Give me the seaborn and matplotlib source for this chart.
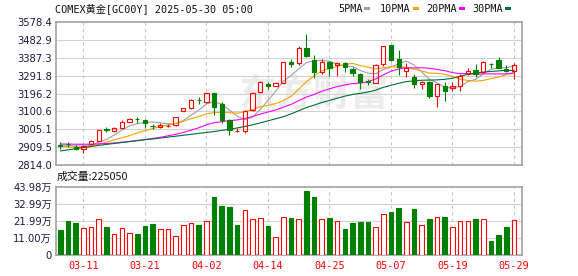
import numpy as np
import matplotlib
matplotlib.use("Agg")
import matplotlib.pyplot as plt
import seaborn as sns
from matplotlib.patches import Rectangle

# ---------------- data ----------------
open_ = [2922, 2928, 2908, 2898, 2925, 2942, 3004, 2996, 3013, 3044, 3061, 3054, 3024, 3019, 3024,
         3028, 3104, 3120, 3163, 3152, 3200, 3138, 3054, 2996, 2998, 3108, 3203, 3247, 3237, 3254,
         3366, 3358, 3438, 3376, 3310, 3366, 3349, 3358, 3327, 3300, 3261, 3254, 3352, 3455, 3380,
         3318, 3282, 3246, 3259, 3184, 3238, 3224, 3238, 3299, 3322, 3310, 3356, 3376, 3327, 3318]
close = [2918, 2924, 2898, 2915, 2942, 3000, 3002, 3010, 3044, 3058, 3059, 3037, 3021, 3026, 3025,
         3069, 3117, 3162, 3160, 3197, 3126, 3054, 3000, 2997, 3103, 3197, 3258, 3235, 3251, 3363,
         3352, 3438, 3399, 3310, 3366, 3331, 3361, 3340, 3308, 3256, 3258, 3349, 3450, 3376, 3340,
         3331, 3247, 3259, 3183, 3245, 3211, 3236, 3290, 3318, 3300, 3366, 3352, 3334, 3316, 3349]
high = [2935, 2938, 2919, 2920, 2950, 3003, 3015, 3015, 3052, 3064, 3069, 3060, 3035, 3036, 3032,
        3072, 3120, 3166, 3176, 3206, 3204, 3152, 3060, 3012, 3110, 3206, 3265, 3258, 3256, 3366,
        3380, 3450, 3515, 3402, 3380, 3372, 3366, 3366, 3340, 3305, 3275, 3352, 3452, 3458, 3429,
        3361, 3300, 3262, 3262, 3248, 3256, 3256, 3298, 3332, 3356, 3368, 3358, 3390, 3349, 3360]
low = [2897, 2912, 2895, 2878, 2920, 2940, 2990, 2992, 3010, 3042, 3040, 3010, 3008, 3013, 3018,
       3025, 3100, 3115, 3140, 3146, 3081, 3038, 2974, 2992, 2983, 3100, 3198, 3222, 3234, 3250,
       3340, 3350, 3390, 3278, 3302, 3290, 3292, 3313, 3292, 3219, 3240, 3250, 3345, 3372, 3295,
       3285, 3225, 3222, 3170, 3126, 3156, 3210, 3211, 3294, 3282, 3305, 3332, 3330, 3312, 3272]

ma5 = [2921, 2919, 2916, 2915, 2919, 2936, 2951, 2974, 3000, 3023, 3035, 3042, 3044, 3040, 3034,
       3036, 3052, 3080, 3107, 3141, 3152, 3140, 3107, 3075, 3056, 3070, 3111, 3158, 3209, 3261,
       3292, 3328, 3361, 3372, 3373, 3369, 3353, 3342, 3341, 3319, 3305, 3302, 3324, 3338, 3355,
       3369, 3349, 3311, 3272, 3253, 3229, 3227, 3233, 3260, 3271, 3302, 3325, 3334, 3334, 3343]
ma10 = [2915, 2912, 2909, 2908, 2913, 2925, 2937, 2948, 2960, 2971, 2985, 2997, 3009, 3020, 3028,
        3035, 3047, 3062, 3073, 3087, 3094, 3096, 3094, 3091, 3099, 3111, 3125, 3133, 3142, 3158,
        3181, 3219, 3259, 3291, 3317, 3330, 3341, 3351, 3357, 3346, 3337, 3328, 3333, 3340, 3337,
        3337, 3326, 3317, 3305, 3304, 3299, 3288, 3272, 3266, 3262, 3266, 3276, 3284, 3297, 3307]
ma20 = [2926, 2926, 2925, 2925, 2925, 2927, 2929, 2932, 2936, 2940, 2945, 2950, 2956, 2962, 2970,
        2978, 2988, 3000, 3013, 3029, 3040, 3046, 3051, 3055, 3063, 3073, 3086, 3097, 3108, 3123,
        3138, 3158, 3177, 3191, 3208, 3221, 3233, 3242, 3249, 3252, 3259, 3274, 3296, 3315, 3327,
        3334, 3333, 3334, 3331, 3325, 3318, 3308, 3302, 3303, 3300, 3301, 3301, 3301, 3301, 3306]
ma30 = [2889, 2895, 2901, 2907, 2913, 2919, 2924, 2929, 2934, 2939, 2944, 2949, 2953, 2958, 2963,
        2968, 2973, 2978, 2983, 2988, 2993, 2999, 3005, 3012, 3020, 3029, 3039, 3050, 3061, 3072,
        3087, 3104, 3121, 3134, 3148, 3159, 3171, 3182, 3191, 3197, 3204, 3214, 3229, 3240, 3251,
        3260, 3264, 3267, 3268, 3269, 3272, 3278, 3288, 3299, 3305, 3311, 3314, 3317, 3320, 3319]

# volume in 万 (10k)
volume = [16.1, 21.9, 20.8, 17.2, 18.4, 23.6, 18.0, 13.3, 17.2, 14.2, 13.5, 18.7, 19.9, 16.5, 16.5,
          12.0, 19.1, 20.4, 19.3, 21.7, 37.3, 31.5, 30.9, 19.3, 29.0, 23.0, 24.2, 18.7, 11.4, 24.9,
          23.8, 23.6, 41.2, 37.3, 23.6, 23.8, 21.7, 16.7, 20.6, 21.5, 21.2, 18.4, 26.4, 27.7, 30.2,
          21.2, 29.6, 19.7, 23.0, 24.9, 24.5, 18.4, 22.3, 22.3, 23.2, 23.6, 9.0, 12.9, 18.0, 22.505]
vol_up = [0, 0, 0, 1, 1, 1, 0, 1, 1, 1, 0, 0, 0, 1, 1, 1, 1, 1, 0, 1, 0, 0, 0, 0, 1, 1, 1, 0, 1, 1,
          0, 1, 0, 0, 1, 0, 1, 0, 0, 0, 0, 1, 1, 0, 0, 1, 0, 1, 0, 1, 0, 1, 1, 1, 0, 1, 0, 0, 0, 1]

date_pos = [3, 11, 19, 27, 35, 43, 51, 59]
date_labels = ["03-11", "03-21", "04-02", "04-14", "04-25", "05-07", "05-19", "05-29"]
price_ticks = [2814.0, 2909.5, 3005.1, 3100.6, 3196.2, 3291.8, 3387.3, 3482.9, 3578.4]
price_labels = ["2814.0", "2909.5", "3005.1", "3100.6", "3196.2", "3291.8", "3387.3", "3482.9", "3578.4"]
vol_ticks = [0, 10.995, 21.99, 32.985, 43.98]
vol_labels = ["0", "11.00万", "21.99万", "32.99万", "43.98万"]
ma_names = ["5PMA", "10PMA", "20PMA", "30PMA"]
title = "COMEX黄金[GC00Y] 2025-05-30 05:00"

# ---------------- style ----------------
sns.set_theme(style="white")
plt.rcParams['font.family'] = ['DejaVu Sans', 'Noto Sans CJK SC']
MONO = ['DejaVu Sans Mono', 'Noto Sans CJK SC']
RED = '#ff0000'
GREEN = '#008000'
MA_COLORS = ['#a0a0a0', '#f5a300', '#ff00ff', '#006f37']
FRAME = '#9a9a9a'
GRID = '#d2d2d2'
LABEL = '#1a1a40'

W, H = 578, 276
fig = plt.figure(figsize=(W / 100, H / 100), dpi=100)
fig.patch.set_facecolor('white')


def rect(l, t, r, b):
    return [l / W, 1 - b / H, (r - l) / W, (b - t) / H]


ax = fig.add_axes(rect(56, 22, 522, 165))
axv = fig.add_axes(rect(56, 187, 522, 255))

n = len(close)
x = np.arange(n)
o = np.array(open_, float)
c = np.array(close, float)
hi = np.array(high, float)
lo = np.array(low, float)
up = c >= o
cols = np.where(up, RED, GREEN)
blo = np.minimum(o, c)
bhi = np.maximum(o, c)

xlim = (-0.56, 60.04)

# watermark
ax.text(33.0, 3190, "东方财富", fontsize=27, fontweight='bold', color='#ececec',
        ha='center', va='center', zorder=0.5, family=['Noto Sans CJK SC'])

# moving averages
for vals, col in zip([ma5, ma10, ma20, ma30], MA_COLORS):
    sns.lineplot(x=x, y=vals, ax=ax, color=col, linewidth=0.8, legend=False, zorder=2)

# candles
ax.vlines(x, lo, blo, colors=cols, linewidth=0.8, zorder=3)
ax.vlines(x, bhi, hi, colors=cols, linewidth=0.8, zorder=3)
ax.bar(x, bhi - blo, bottom=blo, width=0.56,
       color=np.where(up, 'none', GREEN).tolist(), edgecolor=cols.tolist(),
       linewidth=0.8, zorder=4)

ax.set_xlim(*xlim)
ax.set_ylim(price_ticks[0], price_ticks[-1])
ax.set_yticks(price_ticks)
ax.set_yticklabels(price_labels)
ax.set_xticks([])
for yv in price_ticks[1:-1]:
    ax.axhline(yv, color=GRID, linewidth=0.8, zorder=1)
for xp in date_pos:
    ax.axvline(xp, color='#c8c8c8', linewidth=0.8, linestyle=(0, (3, 3)), zorder=1)

# volume
vcols = np.where(np.array(vol_up) == 1, RED, GREEN)
axv.bar(x, volume, width=0.6, color=np.where(np.array(vol_up) == 1, 'white', GREEN).tolist(),
        edgecolor=vcols.tolist(), linewidth=0.8, zorder=3)
axv.set_xlim(*xlim)
axv.set_ylim(0, vol_ticks[-1])
axv.set_yticks(vol_ticks)
axv.set_yticklabels(vol_labels)
for yv in vol_ticks[1:-1]:
    axv.axhline(yv, color=GRID, linewidth=0.8, zorder=1)
for xp in date_pos:
    axv.axvline(xp, color='#c8c8c8', linewidth=0.8, linestyle=(0, (3, 3)), zorder=1)
axv.set_xticks(date_pos)
axv.set_xticklabels(date_labels, family=MONO, fontsize=7.3, color=RED)

for a in (ax, axv):
    a.tick_params(axis='both', length=0, pad=3)
    a.tick_params(axis='y', labelsize=7.2, labelcolor=LABEL)
    a.grid(False)
    for s in a.spines.values():
        s.set_color(FRAME)
        s.set_linewidth(1.1)
        s.set_visible(True)
    a.set_facecolor('white')
axv.tick_params(axis='x', pad=4)

# header texts
fig.text(55 / W, 1 - 9 / H, title, family=MONO, fontsize=7.3, color='#111111', va='center', ha='left')
leg_x = [338, 380, 426, 472]
sw_x = [364, 413, 459, 505]
for name, lx, sx, col in zip(ma_names, leg_x, sw_x, MA_COLORS):
    fig.text(lx / W, 1 - 9 / H, name, family=MONO, fontsize=7.3, color='#111111', va='center', ha='left')
    fig.patches.append(Rectangle((sx / W, 1 - 10 / H), 6 / W, 2.5 / H, transform=fig.transFigure,
                                 facecolor=col, edgecolor='none'))

fig.text(57 / W, 1 - 177 / H, "成交量:%d" % round(volume[-1] * 10000),
         family=['Noto Sans CJK SC', 'DejaVu Sans'], fontsize=7.8, color='#111111', va='center', ha='left')

fig.savefig("out.png", dpi=100, facecolor='white')
